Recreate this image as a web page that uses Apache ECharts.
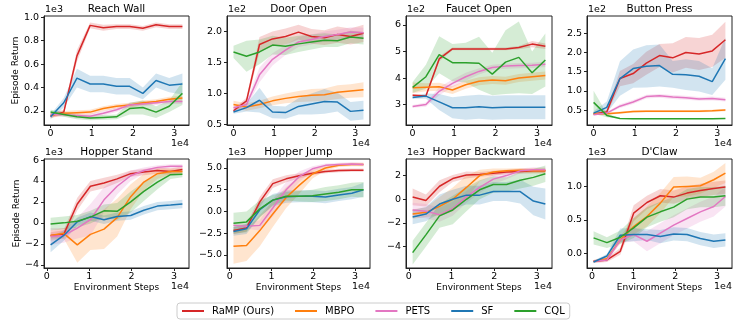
<!DOCTYPE html>
<html>
<head>
<meta charset="utf-8">
<script src="https://cdn.jsdelivr.net/npm/echarts@6/dist/echarts.min.js"></script>
<style>
  html, body { margin: 0; padding: 0; background: #fff; }
  #chart { width: 747px; height: 327px; }
</style>
</head>
<body>
<div id="chart"></div>
<script>
// methods, in legend order
const methods = ['RaMP (Ours)', 'MBPO', 'PETS', 'SF', 'CQL']
const colors = ['#d62728', '#ff7f0e', '#e377c2', '#1f77b4', '#2ca02c']

// environment steps (x 1e4)
const stepsTop = [0, 0.32, 0.64, 0.96, 1.28, 1.6, 1.92, 2.24, 2.56, 2.88, 3.2]
const stepsHopper = [0.09, 0.4, 0.72, 1.03, 1.35, 1.66, 1.98, 2.29, 2.61, 2.92, 3.2]
const stepsClaw = [0.04, 0.36, 0.68, 1.0, 1.32, 1.64, 1.96, 2.28, 2.6, 2.92, 3.2]
const stepTicks = [0, 1, 2, 3]

// Reach Wall (x 1e3)
const reachWallMean = [
  [0.16, 0.19, 0.67, 0.93, 0.91, 0.92, 0.92, 0.905, 0.935, 0.92, 0.92],
  [0.16, 0.18, 0.185, 0.19, 0.22, 0.24, 0.25, 0.27, 0.28, 0.30, 0.31],
  [0.17, 0.17, 0.16, 0.155, 0.18, 0.21, 0.25, 0.26, 0.27, 0.28, 0.28],
  [0.15, 0.27, 0.48, 0.43, 0.43, 0.41, 0.41, 0.35, 0.46, 0.42, 0.43],
  [0.19, 0.17, 0.15, 0.14, 0.145, 0.15, 0.22, 0.23, 0.19, 0.24, 0.35]
]
const reachWallSpread = [
  [0.02, 0.02, 0.05, 0.025, 0.025, 0.02, 0.02, 0.02, 0.02, 0.02, 0.02],
  [0.02, 0.02, 0.02, 0.02, 0.02, 0.02, 0.02, 0.02, 0.02, 0.02, 0.02],
  [0.02, 0.02, 0.02, 0.02, 0.02, 0.02, 0.02, 0.02, 0.02, 0.02, 0.02],
  [0.02, 0.04, 0.08, 0.07, 0.07, 0.07, 0.07, 0.05, 0.06, 0.06, 0.09],
  [0.02, 0.02, 0.02, 0.02, 0.02, 0.02, 0.05, 0.06, 0.05, 0.05, 0.1]
]
const reachWallTicks = [0.2, 0.4, 0.6, 0.8, 1.0]

// Door Open (x 1e2)
const doorOpenMean = [
  [0.72, 0.88, 1.79, 1.88, 1.92, 1.99, 1.92, 1.9, 1.95, 1.92, 1.97],
  [0.82, 0.78, 0.82, 0.88, 0.92, 0.95, 0.97, 0.98, 1.02, 1.04, 1.06],
  [0.77, 0.82, 1.30, 1.55, 1.70, 1.83, 1.87, 1.92, 1.95, 1.99, 1.98],
  [0.70, 0.77, 0.89, 0.70, 0.69, 0.79, 0.83, 0.87, 0.86, 0.71, 0.73],
  [1.67, 1.60, 1.67, 1.78, 1.76, 1.80, 1.83, 1.86, 1.85, 1.91, 1.89]
]
const doorOpenSpread = [
  [0.03, 0.05, 0.12, 0.12, 0.13, 0.12, 0.12, 0.12, 0.13, 0.13, 0.14],
  [0.06, 0.06, 0.06, 0.07, 0.08, 0.09, 0.1, 0.1, 0.11, 0.11, 0.12],
  [0.03, 0.05, 0.12, 0.1, 0.08, 0.08, 0.08, 0.08, 0.08, 0.08, 0.08],
  [0.03, 0.06, 0.2, 0.1, 0.1, 0.13, 0.17, 0.2, 0.15, 0.15, 0.15],
  [0.1, 0.25, 0.2, 0.15, 0.14, 0.13, 0.12, 0.11, 0.1, 0.1, 0.1]
]
const doorOpenTicks = [0.5, 1.0, 1.5, 2.0]

// Faucet Open (x 1e2)
const faucetOpenMean = [
  [3.35, 3.32, 4.72, 5.1, 5.1, 5.1, 5.1, 5.1, 5.15, 5.28, 5.2],
  [3.63, 3.65, 3.67, 3.55, 3.75, 3.88, 3.93, 3.9, 4.0, 4.05, 4.1],
  [2.93, 3.0, 3.5, 3.8, 4.05, 4.25, 4.4, 4.45, 4.47, 4.48, 4.52],
  [3.27, 3.32, 3.1, 2.88, 2.88, 2.92, 2.88, 2.9, 2.9, 2.9, 2.9],
  [3.65, 4.05, 4.88, 4.58, 4.58, 4.56, 4.15, 4.6, 4.78, 4.2, 4.68]
]
const faucetOpenSpread = [
  [0.05, 0.05, 0.1, 0.05, 0.05, 0.05, 0.05, 0.05, 0.06, 0.12, 0.1],
  [0.2, 0.15, 0.15, 0.15, 0.15, 0.15, 0.15, 0.15, 0.15, 0.15, 0.15],
  [0.05, 0.08, 0.15, 0.15, 0.15, 0.12, 0.1, 0.1, 0.1, 0.1, 0.1],
  [0.05, 0.1, 0.3, 0.4, 0.45, 0.45, 0.45, 0.45, 0.45, 0.45, 0.45],
  [0.2, 0.45, 0.7, 0.7, 0.75, 1.0, 0.8, 1.2, 1.35, 0.8, 1.0]
]
const faucetOpenTicks = [3, 4, 5, 6]

// Button Press (x 1e2)
const buttonPressMean = [
  [0.40, 0.45, 1.32, 1.45, 1.72, 1.92, 1.86, 2.0, 1.96, 2.04, 2.33],
  [0.40, 0.40, 0.43, 0.46, 0.47, 0.47, 0.47, 0.47, 0.47, 0.48, 0.50],
  [0.38, 0.42, 0.60, 0.71, 0.85, 0.87, 0.84, 0.82, 0.79, 0.80, 0.77],
  [0.42, 0.57, 1.32, 1.58, 1.64, 1.66, 1.43, 1.42, 1.38, 1.24, 1.84],
  [0.70, 0.36, 0.28, 0.27, 0.27, 0.27, 0.27, 0.27, 0.27, 0.27, 0.28]
]
const buttonPressSpread = [
  [0.03, 0.05, 0.2, 0.25, 0.3, 0.3, 0.38, 0.4, 0.42, 0.42, 0.47],
  [0.03, 0.03, 0.03, 0.03, 0.03, 0.03, 0.03, 0.03, 0.03, 0.03, 0.03],
  [0.02, 0.03, 0.05, 0.05, 0.05, 0.05, 0.05, 0.05, 0.05, 0.05, 0.05],
  [0.05, 0.15, 0.45, 0.5, 0.55, 0.55, 0.35, 0.4, 0.4, 0.35, 0.55],
  [0.3, 0.05, 0.01, 0.01, 0.01, 0.01, 0.01, 0.01, 0.01, 0.01, 0.01]
]
const buttonPressTicks = [0.5, 1.0, 1.5, 2.0, 2.5]

// Hopper Stand (x 1e3)
const hopperStandMean = [
  [-1.2, -1.1, 1.8, 3.5, 3.8, 4.2, 4.7, 4.85, 5.0, 4.9, 5.1],
  [-1.2, -1.0, -2.1, -1.1, -0.6, 0.5, 2.5, 3.9, 4.7, 4.9, 4.9],
  [-1.3, -1.2, -0.5, 0.3, 2.2, 3.5, 4.5, 5.0, 5.3, 5.4, 5.4],
  [-2.1, -1.2, 0.1, 0.6, 0.3, 0.6, 0.7, 1.2, 1.6, 1.7, 1.8],
  [-0.1, 0.0, 0.15, 0.55, 1.15, 1.1, 2.0, 3.0, 3.9, 4.6, 4.65]
]
const hopperStandSpread = [
  [0.3, 0.4, 0.6, 0.5, 0.5, 0.4, 0.3, 0.3, 0.3, 0.3, 0.3],
  [0.5, 0.5, 1.7, 1.5, 1.9, 1.8, 1.2, 0.8, 0.5, 0.3, 0.3],
  [0.8, 0.7, 1.0, 1.5, 1.2, 0.8, 0.5, 0.3, 0.2, 0.2, 0.2],
  [0.7, 0.5, 0.4, 0.4, 0.4, 0.4, 0.4, 0.4, 0.4, 0.4, 0.4],
  [0.6, 0.6, 0.6, 0.6, 0.6, 0.8, 1.0, 0.9, 0.7, 0.4, 0.3]
]
const hopperStandTicks = [-4, -2, 0, 2, 4, 6]

// Hopper Jump (x 1e3)
const hopperJumpMean = [
  [-2.2, -1.9, 1.1, 3.2, 3.75, 4.1, 4.4, 4.6, 4.7, 4.75, 4.75],
  [-4.0, -3.9, -2.2, -0.3, 1.6, 3.0, 4.3, 5.0, 5.3, 5.4, 5.4],
  [-1.6, -1.7, -1.6, 0.4, 2.5, 4.0, 4.9, 5.3, 5.4, 5.45, 5.4],
  [-2.3, -2.0, 0.2, 1.3, 1.7, 1.75, 1.75, 1.65, 1.9, 2.1, 2.5],
  [-1.35, -1.2, 0.3, 1.3, 1.75, 1.75, 1.8, 2.0, 2.2, 2.5, 2.5]
]
const hopperJumpSpread = [
  [0.4, 0.4, 0.6, 0.5, 0.4, 0.3, 0.2, 0.2, 0.2, 0.2, 0.2],
  [2.0, 1.8, 1.8, 1.5, 1.2, 1.0, 0.5, 0.3, 0.2, 0.2, 0.2],
  [0.3, 0.3, 0.6, 1.0, 0.9, 0.6, 0.3, 0.2, 0.2, 0.2, 0.2],
  [0.5, 0.6, 0.8, 0.7, 0.7, 0.7, 0.7, 0.7, 0.7, 0.7, 0.8],
  [1.2, 1.2, 1.0, 0.6, 0.5, 0.6, 0.7, 0.8, 0.8, 0.8, 0.9]
]
const hopperJumpTicks = [-5, -2.5, 0, 2.5, 5]

// Hopper Backward (x 1e3)
const hopperBackwardMean = [
  [0.2, -0.1, 1.1, 1.75, 2.05, 2.1, 2.2, 2.3, 2.35, 2.4, 2.4],
  [-1.25, -1.1, -0.6, 0.0, 1.0, 2.0, 2.3, 2.4, 2.45, 2.4, 2.4],
  [-0.9, -1.0, -1.3, -0.8, 0.2, 1.0, 1.7, 2.0, 2.4, 2.5, 2.5],
  [-1.5, -1.25, -0.4, 0.0, 0.35, 0.35, 0.65, 0.65, 0.65, -0.15, -0.4],
  [-4.5, -3.0, -1.4, -0.9, 0.0, 0.8, 1.25, 1.25, 1.6, 1.85, 2.15]
]
const hopperBackwardSpread = [
  [0.7, 0.5, 0.5, 0.3, 0.3, 0.2, 0.2, 0.2, 0.2, 0.2, 0.2],
  [0.4, 0.4, 0.8, 1.0, 1.0, 0.5, 0.3, 0.2, 0.2, 0.2, 0.2],
  [0.6, 0.6, 0.6, 0.6, 0.5, 0.5, 0.4, 0.3, 0.2, 0.2, 0.2],
  [0.6, 0.6, 0.8, 0.8, 0.8, 0.8, 0.8, 0.8, 1.0, 1.2, 1.3],
  [1.0, 1.0, 1.0, 1.2, 1.0, 0.8, 0.7, 0.6, 0.7, 0.7, 0.7]
]
const hopperBackwardTicks = [-4, -2, 0, 2]

// D'Claw (x 1e3)
const dClawMean = [
  [-0.12, -0.1, 0.03, 0.6, 0.76, 0.86, 0.84, 0.9, 0.94, 0.97, 0.99],
  [-0.12, -0.08, 0.2, 0.4, 0.55, 0.75, 0.99, 1.0, 1.01, 1.1, 1.2],
  [-0.12, -0.1, 0.2, 0.28, 0.18, 0.3, 0.42, 0.52, 0.62, 0.7, 0.85],
  [-0.13, -0.04, 0.27, 0.28, 0.28, 0.25, 0.29, 0.28, 0.22, 0.18, 0.2],
  [0.23, 0.16, 0.24, 0.38, 0.54, 0.62, 0.69, 0.81, 0.84, 0.84, 0.86]
]
const dClawSpread = [
  [0.02, 0.03, 0.05, 0.12, 0.1, 0.1, 0.1, 0.1, 0.1, 0.1, 0.1],
  [0.02, 0.03, 0.05, 0.12, 0.15, 0.15, 0.15, 0.15, 0.12, 0.12, 0.15],
  [0.02, 0.03, 0.05, 0.1, 0.15, 0.15, 0.15, 0.15, 0.15, 0.15, 0.15],
  [0.02, 0.03, 0.1, 0.1, 0.08, 0.1, 0.1, 0.1, 0.1, 0.1, 0.1],
  [0.1, 0.08, 0.1, 0.15, 0.15, 0.15, 0.15, 0.15, 0.15, 0.15, 0.15]
]
const dClawTicks = [0, 0.5, 1.0]

const panels = [
  { title: 'Reach Wall', steps: stepsTop, mean: reachWallMean, spread: reachWallSpread, ticks: reachWallTicks, yMin: 0.08, yMax: 1.01, dec: 1, exp: '1e3' },
  { title: 'Door Open', steps: stepsTop, mean: doorOpenMean, spread: doorOpenSpread, ticks: doorOpenTicks, yMin: 0.49, yMax: 2.25, dec: 1, exp: '1e2' },
  { title: 'Faucet Open', steps: stepsTop, mean: faucetOpenMean, spread: faucetOpenSpread, ticks: faucetOpenTicks, yMin: 2.23, yMax: 6.34, dec: 0, exp: '1e2' },
  { title: 'Button Press', steps: stepsTop, mean: buttonPressMean, spread: buttonPressSpread, ticks: buttonPressTicks, yMin: 0.11, yMax: 2.95, dec: 1, exp: '1e2' },
  { title: 'Hopper Stand', steps: stepsHopper, mean: hopperStandMean, spread: hopperStandSpread, ticks: hopperStandTicks, yMin: -4.31, yMax: 6.1, dec: 0, exp: '1e3' },
  { title: 'Hopper Jump', steps: stepsHopper, mean: hopperJumpMean, spread: hopperJumpSpread, ticks: hopperJumpTicks, yMin: -6.5, yMax: 6.03, dec: 1, exp: '1e3' },
  { title: 'Hopper Backward', steps: stepsHopper, mean: hopperBackwardMean, spread: hopperBackwardSpread, ticks: hopperBackwardTicks, yMin: -5.8, yMax: 3.4, dec: 0, exp: '1e3' },
  { title: "D'Claw", steps: stepsClaw, mean: dClawMean, spread: dClawSpread, ticks: dClawTicks, yMin: -0.22, yMax: 1.41, dec: 1, exp: '1e3' }
]

// layout of the 2x4 axes boxes
const colLeft = [44, 227, 406, 587]
const colWidth = [145, 143, 146, 145]
const rowTop = [16, 159]
const rowHeight = 109

const FONT = 'DejaVu Sans'
const fmt = (v, dec) => (v < 0 ? '\u2212' : '') + Math.abs(v).toFixed(dec)
const bandFill = colors.map(c => echarts.color.modifyAlpha(c, 0.2))

const grids = [], xAxes = [], yAxes = [], series = [], texts = []

panels.forEach((p, i) => {
  const col = i % 4, row = Math.floor(i / 4)
  const left = colLeft[col], top = rowTop[row], width = colWidth[col]
  grids.push({
    left, top, width, height: rowHeight,
    show: true, borderColor: '#222', borderWidth: 1,
    outerBoundsMode: 'none'
  })
  const s0 = p.steps[0], s1 = p.steps[p.steps.length - 1]
  const pad = (s1 - s0) * 0.05
  xAxes.push({
    type: 'value', gridIndex: i, min: s0 - pad, max: s1 + pad,
    axisLine: { onZero: false, lineStyle: { color: '#222', width: 1 } },
    axisTick: { show: true, length: 3, lineStyle: { color: '#222' }, customValues: stepTicks },
    axisLabel: { customValues: stepTicks, margin: 4, fontSize: 9.5, fontFamily: FONT, color: '#000', formatter: v => fmt(v, 0) },
    splitLine: { show: false },
    name: row === 1 ? 'Environment Steps' : '',
    nameLocation: 'middle', nameGap: 14,
    nameTextStyle: { fontSize: 9, fontFamily: FONT, color: '#000' }
  })
  yAxes.push({
    type: 'value', gridIndex: i, min: p.yMin, max: p.yMax,
    axisLine: { onZero: false, lineStyle: { color: '#222', width: 1 } },
    axisTick: { show: true, length: 3, lineStyle: { color: '#222' }, customValues: p.ticks },
    axisLabel: { customValues: p.ticks, margin: 5, fontSize: 9.5, fontFamily: FONT, color: '#000', formatter: v => fmt(v, p.dec) },
    splitLine: { show: false },
    name: col === 0 ? 'Episode Return' : '',
    nameLocation: 'middle', nameGap: 20,
    nameTextStyle: { fontSize: 9, fontFamily: FONT, color: '#000' }
  })

  p.mean.forEach((m, k) => {
    series.push({
      type: 'line', id: 'line-' + i + '-' + k, name: methods[k], xAxisIndex: i, yAxisIndex: i,
      symbol: 'none', color: colors[k], z: 3,
      lineStyle: { color: colors[k], width: 1.5 },
      data: m.map((v, j) => [p.steps[j], v])
    })
  })

  // panel title, y offset and x offset labels
  texts.push({ type: 'text', x: left + width / 2, y: top - 7,
    style: { text: p.title, fontSize: 10.5, fontFamily: FONT, fill: '#000', align: 'center', verticalAlign: 'middle' } })
  texts.push({ type: 'text', x: left + 1, y: top - 6,
    style: { text: p.exp, fontSize: 9.5, fontFamily: FONT, fill: '#000', align: 'left', verticalAlign: 'middle' } })
  texts.push({ type: 'text', x: left + width, y: top + rowHeight + 19,
    style: { text: '1e4', fontSize: 9.5, fontFamily: FONT, fill: '#000', align: 'right', verticalAlign: 'middle' } })
})

const chart = echarts.init(document.getElementById('chart'))
chart.setOption({
  animation: false,
  backgroundColor: '#fff',
  grid: grids,
  xAxis: xAxes,
  yAxis: yAxes,
  series,
  legend: {
    data: methods.map(name => ({ name, icon: 'rect' })),
    left: 177, top: 303,
    itemWidth: 22, itemHeight: 2, itemGap: 21,
    padding: [3, 5, 3, 5],
    borderColor: '#ccc', borderWidth: 1, borderRadius: 3,
    backgroundColor: '#fff',
    textStyle: { fontSize: 10, fontFamily: FONT, color: '#000', padding: [0, 0, 0, 3] },
    selectedMode: false
  }
})

// spread bands: polygons placed through each panel's own axes
const bands = []
panels.forEach((p, i) => {
  const toPx = (x, y) => chart.convertToPixel({ xAxisIndex: i, yAxisIndex: i }, [x, y])
  p.mean.forEach((m, k) => {
    const s = p.spread[k]
    const pts = []
    for (let j = 0; j < m.length; j++) pts.push(toPx(p.steps[j], m[j] + s[j]))
    for (let j = m.length - 1; j >= 0; j--) pts.push(toPx(p.steps[j], m[j] - s[j]))
    bands.push({ type: 'polygon', silent: true, z: 1, shape: { points: pts }, style: { fill: bandFill[k] } })
  })
})
chart.setOption({ graphic: bands.concat(texts) })
</script>
</body>
</html>
